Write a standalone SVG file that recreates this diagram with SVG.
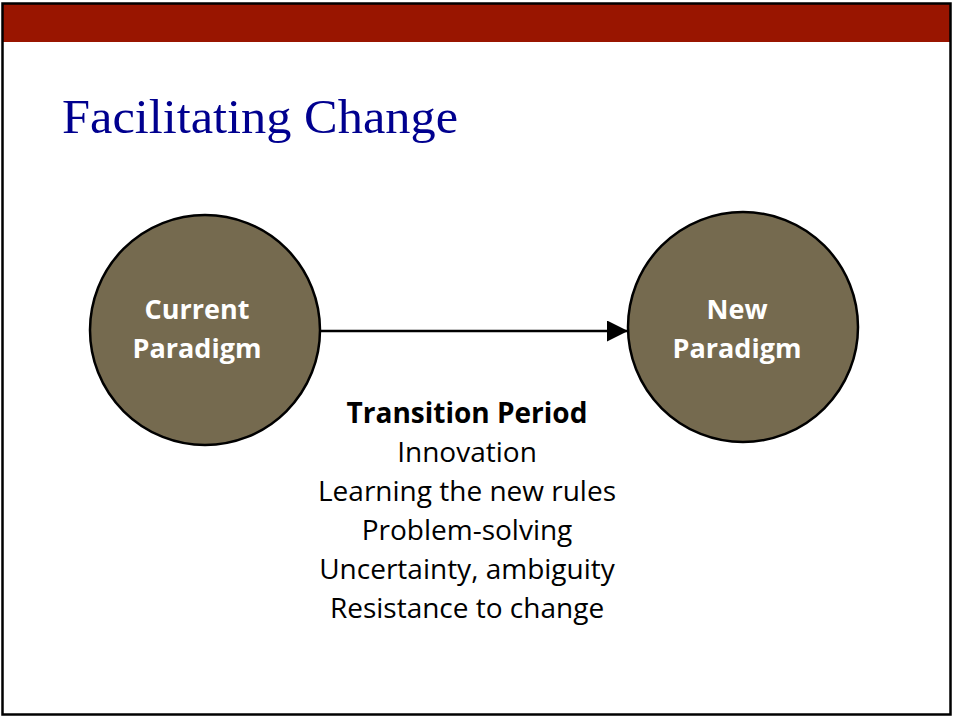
<svg xmlns="http://www.w3.org/2000/svg" width="953" height="717" viewBox="0 0 953 717">
<style>
.node circle{fill:#756a4f;stroke:#000;stroke-width:2.5}
.nt{font-family:"Open Sans","Liberation Sans",sans-serif;font-weight:bold;font-size:27px;fill:#fff;text-anchor:middle}
.bt{font-family:"Open Sans","Liberation Sans",sans-serif;font-size:28px;fill:#000;text-anchor:middle}
</style>
<defs>
<marker id="ah2" viewBox="0 0 20 20" refX="20" refY="10" markerWidth="21" markerHeight="21" markerUnits="userSpaceOnUse" orient="auto">
<path d="M0,0L20,10L0,20z" fill="#000"/>
</marker>
</defs>
<rect x="0" y="0" width="953" height="717" fill="#fff"/>
<rect x="3" y="4" width="948" height="38" fill="#991500"/>
<rect x="2.5" y="3.5" width="948" height="711" fill="none" stroke="#000" stroke-width="2.5"/>
<text x="62" y="133" font-family="'Liberation Serif',serif" font-size="49" fill="#00008f" textLength="396" lengthAdjust="spacingAndGlyphs">Facilitating Change</text>
<g id="connectors">
<line x1="320" y1="331" x2="628" y2="331" stroke="#000" stroke-width="2.5" marker-end="url(#ah2)"/>
</g>
<g id="current" class="node">
<circle cx="205" cy="330" r="115"/>
<text class="nt" x="197" y="319">Current</text>
<text class="nt" x="197" y="358">Paradigm</text>
</g>
<g id="new" class="node">
<circle cx="743" cy="327" r="115"/>
<text class="nt" x="737" y="319">New</text>
<text class="nt" x="737" y="358">Paradigm</text>
</g>
<g id="transition">
<text class="bt" x="467" y="423" font-weight="bold" font-size="27">Transition Period</text>
<text class="bt" x="467" y="462">Innovation</text>
<text class="bt" x="467" y="501">Learning the new rules</text>
<text class="bt" x="467" y="540">Problem-solving</text>
<text class="bt" x="467" y="579">Uncertainty, ambiguity</text>
<text class="bt" x="467" y="618">Resistance to change</text>
</g>
</svg>
